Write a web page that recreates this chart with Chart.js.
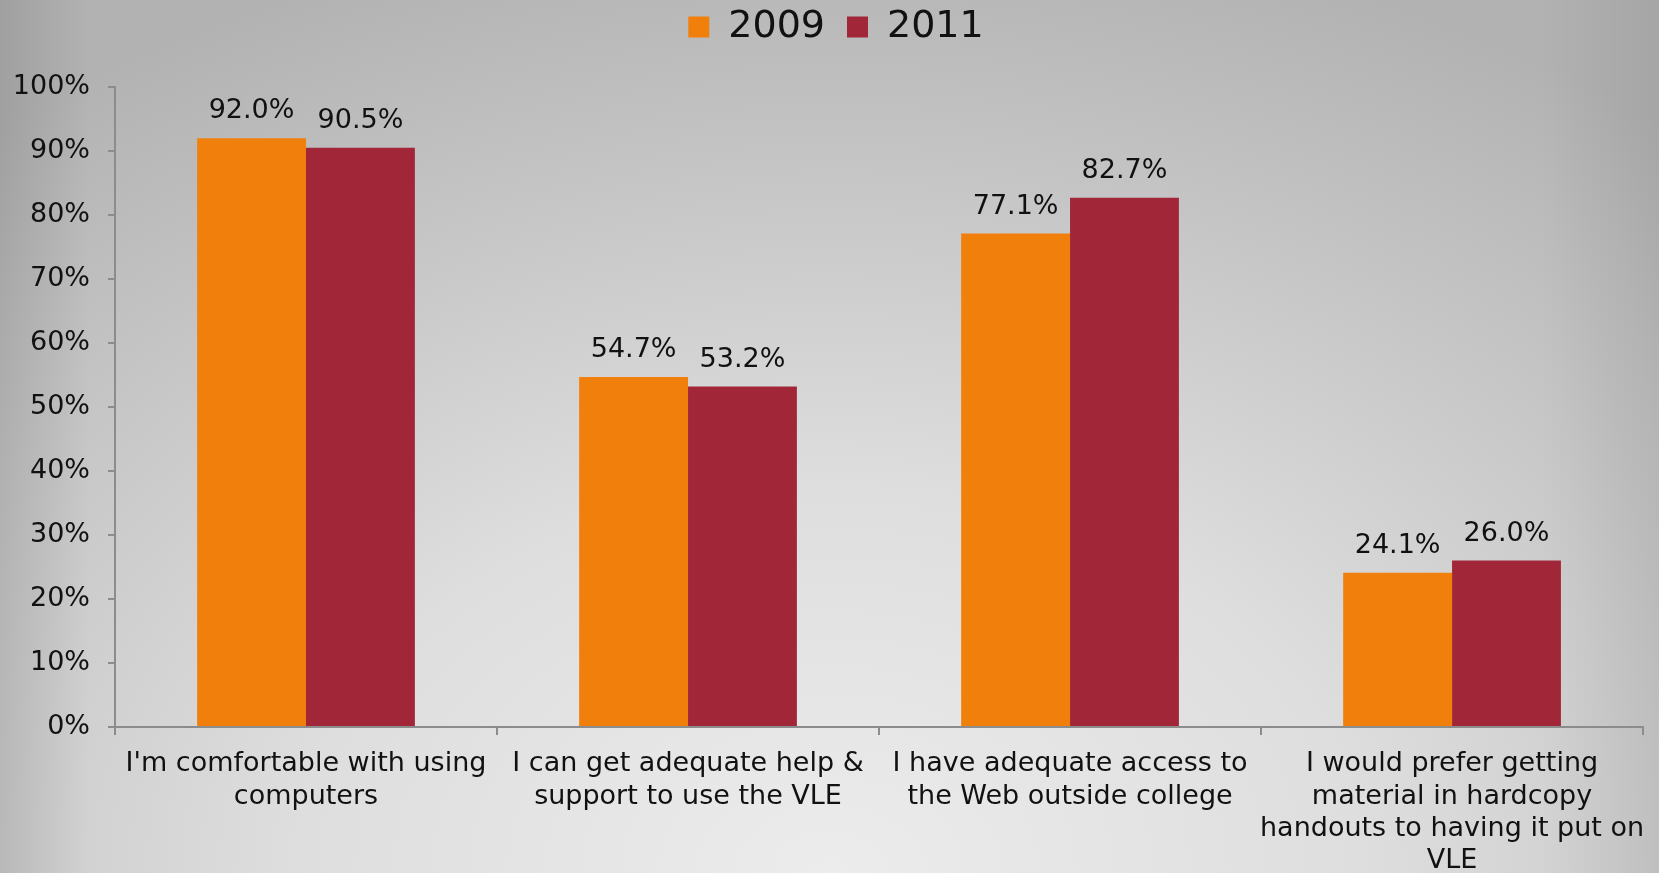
<!DOCTYPE html>
<html>
<head>
<meta charset="utf-8">
<script src="https://cdn.jsdelivr.net/npm/chart.js@4/dist/chart.umd.min.js"></script>
<style>
    html, body {
        margin: 0;
        padding: 0;
        width: 1659px;
        height: 873px;
        overflow: hidden;
    }
    body {
        background:
            linear-gradient(to right, rgba(0,0,0,0.10) 0, rgba(0,0,0,0) 90px),
            linear-gradient(to left, rgba(0,0,0,0.07) 0, rgba(0,0,0,0) 120px),
            radial-gradient(ellipse 80% 110% at 50% 100%, #ececec 0%, #dedede 40%, #c4c4c4 75%, #b2b2b2 100%);
    }
    canvas { display: block; }
</style>
</head>
<body>
<canvas id="surveyChart" width="1659" height="873"></canvas>
<script>
const categories = [
    ["I'm comfortable with using", "computers"],
    ["I can get adequate help &", "support to use the VLE"],
    ["I have adequate access to", "the Web outside college"],
    ["I would prefer getting", "material in hardcopy", "handouts to having it put on", "VLE"]
];
const values2009 = [92.0, 54.7, 77.1, 24.1];
const values2011 = [90.5, 53.2, 82.7, 26.0];
const seriesLabels = ['2009', '2011'];
const yTicks = [0, 10, 20, 30, 40, 50, 60, 70, 80, 90, 100];

const FONT = 'DejaVu Sans, Verdana, sans-serif';
const axisGrey = '#8c8c8c';

// values printed above each bar
const valueLabels = {
    id: 'valueLabels',
    afterDatasetsDraw(chart) {
        const { ctx } = chart;
        ctx.save();
        ctx.font = '27px ' + FONT;
        ctx.fillStyle = '#111';
        ctx.textAlign = 'center';
        ctx.textBaseline = 'middle';
        chart.data.datasets.forEach((ds, i) => {
            chart.getDatasetMeta(i).data.forEach((bar, j) => {
                ctx.fillText(ds.data[j].toFixed(1) + '%', bar.x, bar.y - 27);
            });
        });
        ctx.restore();
    }
};

// legend takes a fixed band at the top and sits a bit right of centre
const legendBand = {
    id: 'legendBand',
    afterInit(chart) {
        const lg = chart.legend;
        if (!lg) return;
        const fit = lg.fit;
        lg.fit = function () {
            fit.call(this);
            this.height = 101;
        };
        const draw = lg.draw;
        lg.draw = function (area) {
            this.ctx.save();
            this.ctx.translate(14, 0);
            draw.call(this, area);
            this.ctx.restore();
        };
    }
};

const ctx = document.getElementById('surveyChart').getContext('2d');

new Chart(ctx, {
    type: 'bar',
    data: {
        labels: categories,
        datasets: [
            {
                label: seriesLabels[0],
                data: values2009,
                backgroundColor: '#f0800b',
                borderWidth: 0
            },
            {
                label: seriesLabels[1],
                data: values2011,
                backgroundColor: '#a12738',
                borderWidth: 0
            }
        ]
    },
    options: {
        responsive: false,
        animation: false,
        categoryPercentage: 0.57,
        barPercentage: 1.0,
        layout: {
            padding: { top: -14, right: 15, bottom: 0, left: 0 }
        },
        scales: {
            x: {
                grid: {
                    drawOnChartArea: false,
                    color: axisGrey,
                    lineWidth: 2,
                    tickLength: 8
                },
                border: { color: axisGrey, width: 2 },
                ticks: {
                    color: '#111',
                    padding: 13,
                    maxRotation: 0,
                    autoSkip: false,
                    font: { family: FONT, size: 27, lineHeight: 1.2 }
                },
                afterFit(scale) { scale.height = 146; }
            },
            y: {
                min: 0,
                max: 100,
                afterBuildTicks(scale) {
                    scale.ticks = yTicks.map(v => ({ value: v }));
                },
                grid: {
                    drawOnChartArea: false,
                    color: axisGrey,
                    lineWidth: 2,
                    tickLength: 7
                },
                border: { color: axisGrey, width: 2 },
                ticks: {
                    color: '#111',
                    padding: 18,
                    font: { family: FONT, size: 27 },
                    callback: v => v + '%'
                },
                afterFit(scale) { scale.width = 115; }
            }
        },
        plugins: {
            legend: {
                display: true,
                position: 'top',
                labels: {
                    color: '#111',
                    boxWidth: 21,
                    boxHeight: 21,
                    padding: 22,
                    font: { family: FONT, size: 38 }
                }
            },
            tooltip: { enabled: false }
        }
    },
    plugins: [valueLabels, legendBand]
});
</script>
</body>
</html>
